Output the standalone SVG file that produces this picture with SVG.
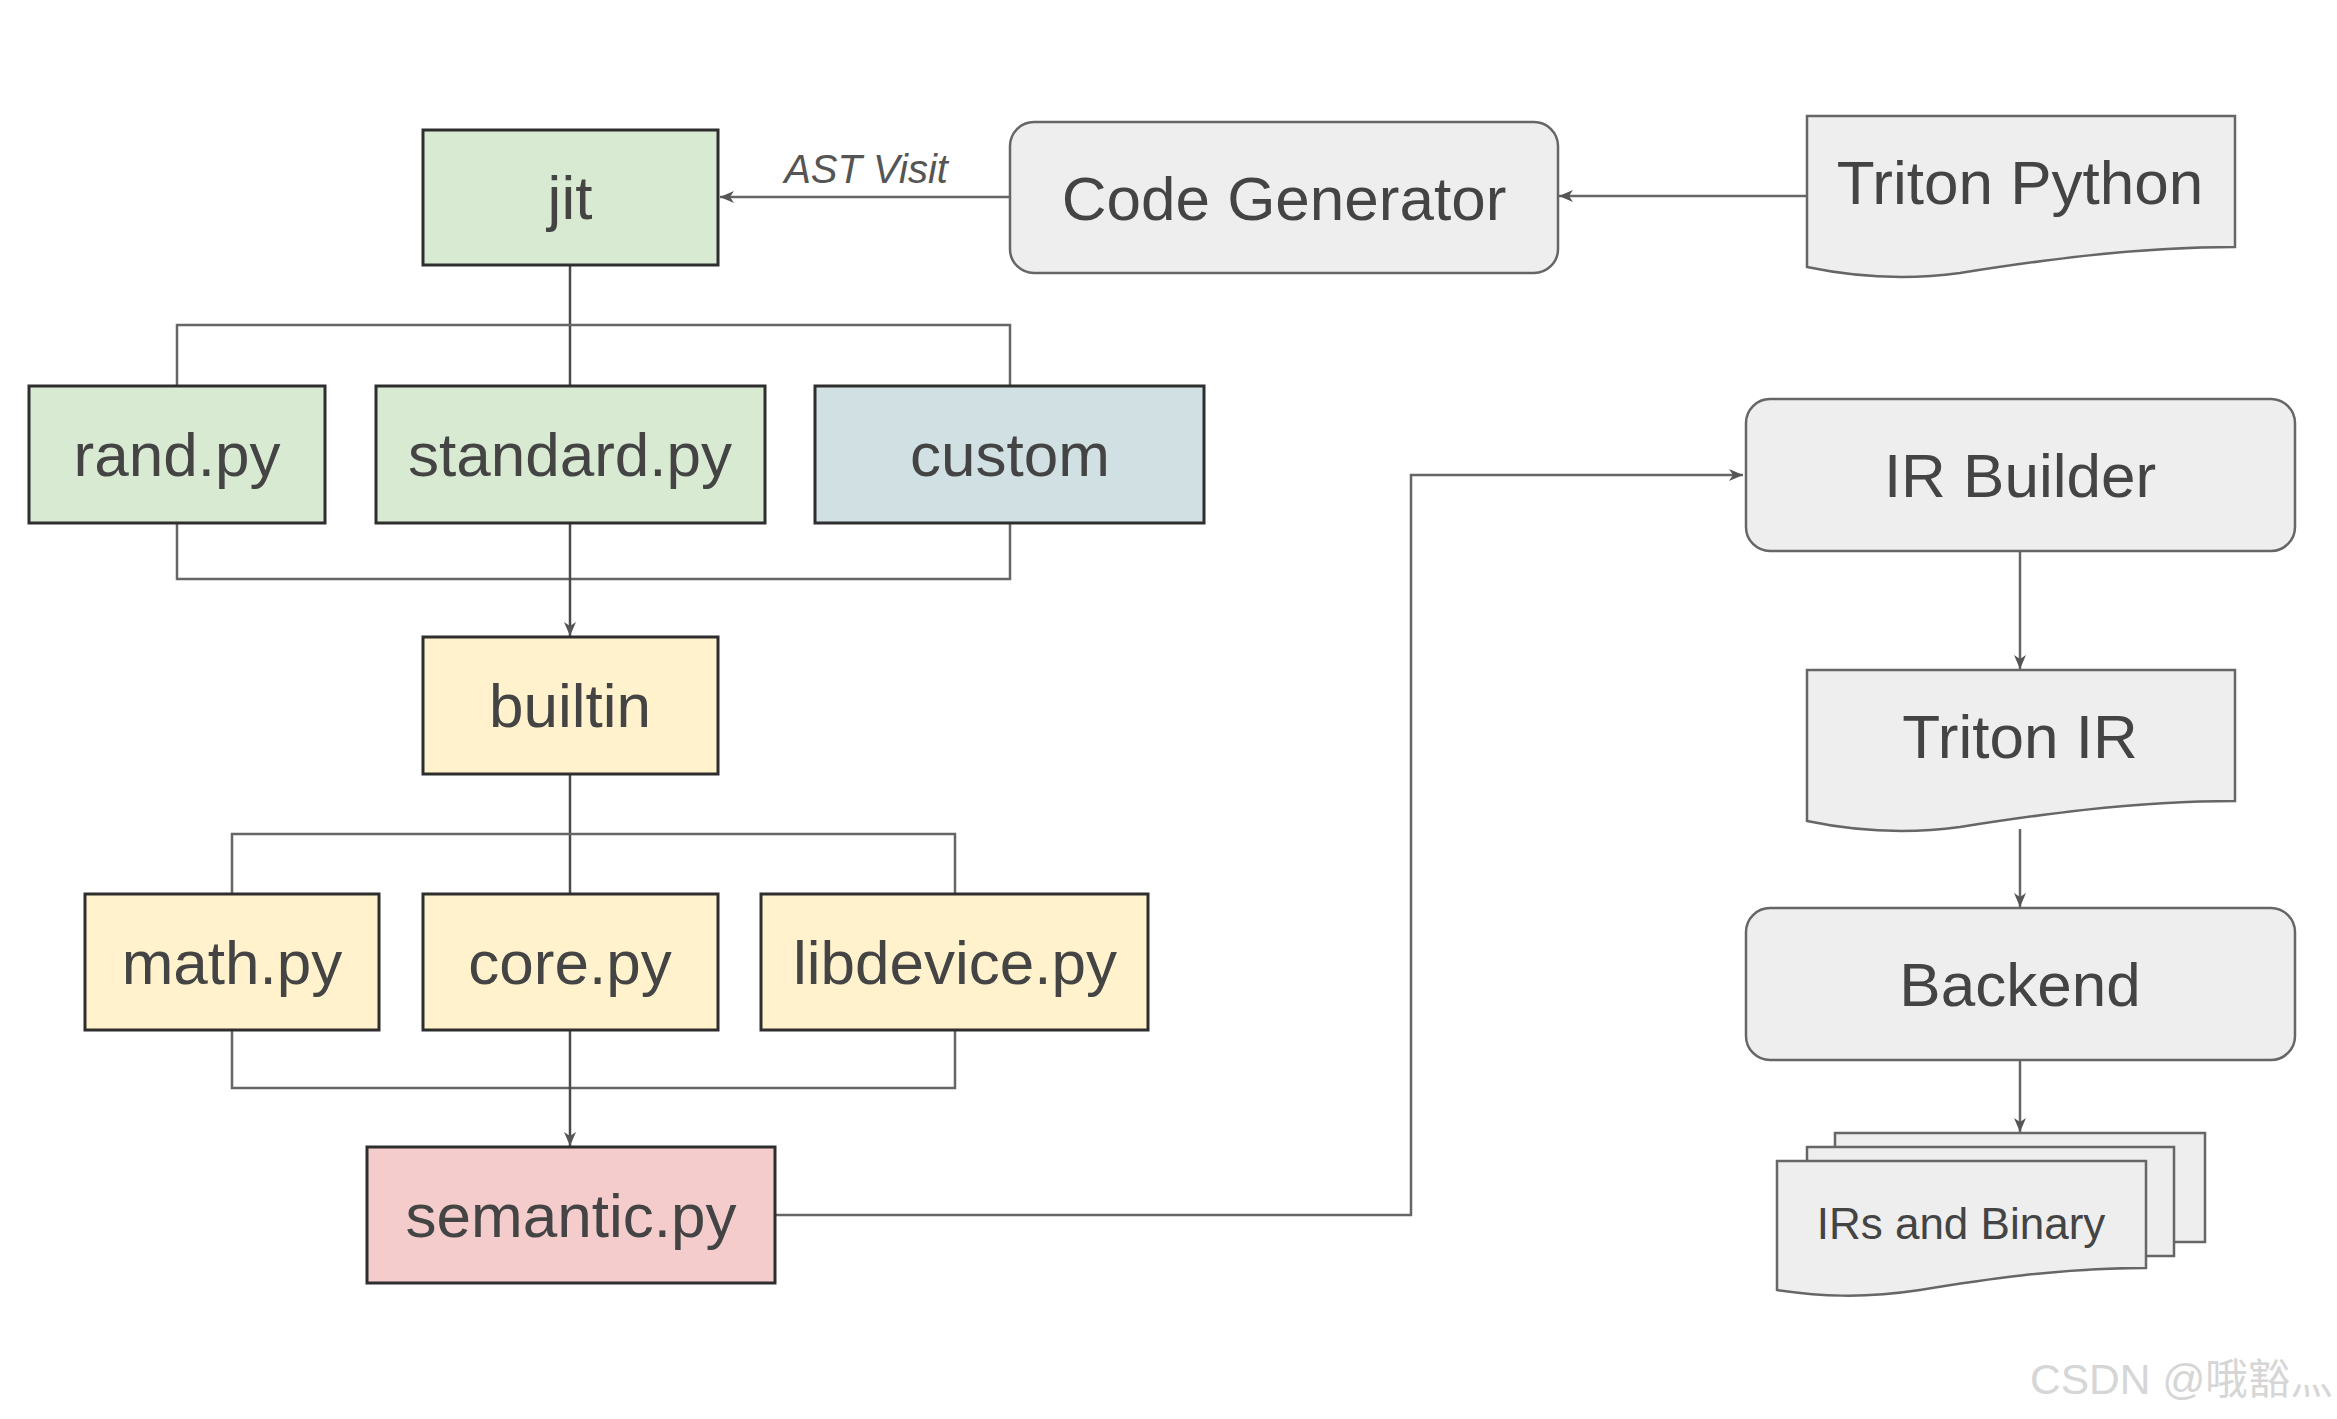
<svg xmlns="http://www.w3.org/2000/svg" width="2337" height="1419" viewBox="0 0 2337 1419">
<style>
.box{stroke:#2e2e2e;stroke-width:3}
.g{fill:#d9ead3}.b{fill:#d0e0e3}.y{fill:#fff2cc}.p{fill:#f4cccc}
.gray{fill:#eeeeee;stroke:#666;stroke-width:2.5}
.t{font-family:"Liberation Sans",Arial,sans-serif;font-size:62px;fill:#444;text-anchor:middle}
.small{font-size:44px}
.lbl{font-family:"Liberation Sans",Arial,sans-serif;font-size:40px;font-style:italic;fill:#555;text-anchor:middle}
.c{fill:none;stroke:#666;stroke-width:2.5}
.cd{fill:none;stroke:#4a4a4a;stroke-width:2.5}
.wm{font-family:"Liberation Sans","Noto Sans CJK SC",sans-serif;font-size:42.5px;fill:#d6d6d6}
</style>
<defs>
<marker id="ah" markerUnits="userSpaceOnUse" markerWidth="16" markerHeight="14" refX="14" refY="7" orient="auto">
<path d="M0,1 L14,7 L0,13 L4,7 Z" fill="#555"/>
</marker>
</defs>
<rect width="2337" height="1419" fill="#ffffff"/>

<g id="connectors">
<line class="c" x1="1009" y1="197" x2="720" y2="197" marker-end="url(#ah)"/>
<line class="c" x1="1807" y1="196" x2="1559" y2="196" marker-end="url(#ah)"/>
<line class="cd" x1="570" y1="265" x2="570" y2="386"/>
<polyline class="c" points="177,386 177,325 1010,325 1010,386"/>
<polyline class="c" points="177,523 177,579 1010,579 1010,523"/>
<line class="cd" x1="570" y1="523" x2="570" y2="636" marker-end="url(#ah)"/>
<line class="cd" x1="570" y1="774" x2="570" y2="894"/>
<polyline class="c" points="232,894 232,834 955,834 955,894"/>
<polyline class="c" points="232,1030 232,1088 955,1088 955,1030"/>
<line class="cd" x1="570" y1="1030" x2="570" y2="1146" marker-end="url(#ah)"/>
<polyline class="c" points="775,1215 1411,1215 1411,475 1743,475" marker-end="url(#ah)"/>
<line class="c" x1="2020" y1="551" x2="2020" y2="669" marker-end="url(#ah)"/>
<line class="c" x1="2020" y1="829" x2="2020" y2="907" marker-end="url(#ah)"/>
<line class="c" x1="2020" y1="1060" x2="2020" y2="1132" marker-end="url(#ah)"/>
</g>
<text class="lbl" x="866" y="183">AST Visit</text>

<g id="jit"><rect class="box g" x="423" y="130" width="295" height="135"/><text class="t" x="570" y="219">jit</text></g>
<g id="code-generator"><rect class="gray" x="1010" y="122" width="548" height="151" rx="24"/><text class="t" x="1284" y="220">Code Generator</text></g>
<g id="triton-python"><path class="gray" d="M1807,116 H2235 V247 C2130,247 2030,262 1960,273 C1900,281 1850,276 1807,267 Z"/><text class="t" x="2020" y="204">Triton Python</text></g>

<g id="rand"><rect class="box g" x="29" y="386" width="296" height="137"/><text class="t" x="177" y="476">rand.py</text></g>
<g id="standard"><rect class="box g" x="376" y="386" width="389" height="137"/><text class="t" x="570" y="476">standard.py</text></g>
<g id="custom"><rect class="box b" x="815" y="386" width="389" height="137"/><text class="t" x="1010" y="476">custom</text></g>

<g id="builtin"><rect class="box y" x="423" y="637" width="295" height="137"/><text class="t" x="570" y="727">builtin</text></g>

<g id="math"><rect class="box y" x="85" y="894" width="294" height="136"/><text class="t" x="232" y="984">math.py</text></g>
<g id="core"><rect class="box y" x="423" y="894" width="295" height="136"/><text class="t" x="570" y="984">core.py</text></g>
<g id="libdevice"><rect class="box y" x="761" y="894" width="387" height="136"/><text class="t" x="955" y="984">libdevice.py</text></g>

<g id="semantic"><rect class="box p" x="367" y="1147" width="408" height="136"/><text class="t" x="571" y="1237">semantic.py</text></g>

<g id="ir-builder"><rect class="gray" x="1746" y="399" width="549" height="152" rx="24"/><text class="t" x="2020" y="497">IR Builder</text></g>
<g id="triton-ir"><path class="gray" d="M1807,670 H2235 V801 C2130,801 2030,816 1960,827 C1900,835 1850,830 1807,821 Z"/><text class="t" x="2020" y="758">Triton IR</text></g>
<g id="backend"><rect class="gray" x="1746" y="908" width="549" height="152" rx="24"/><text class="t" x="2020" y="1006">Backend</text></g>
<g id="irs-binary">
<rect class="gray" x="1835" y="1133" width="370" height="109"/>
<rect class="gray" x="1807" y="1147" width="367" height="109"/>
<path class="gray" d="M1777,1161 H2146 V1268 C2060,1268 1980,1280 1920,1290 C1860,1299 1820,1296 1777,1290 Z"/>
<text class="t small" x="1961" y="1239">IRs and Binary</text>
</g>

<text class="wm" x="2030" y="1394">CSDN @哦豁灬</text>
</svg>
